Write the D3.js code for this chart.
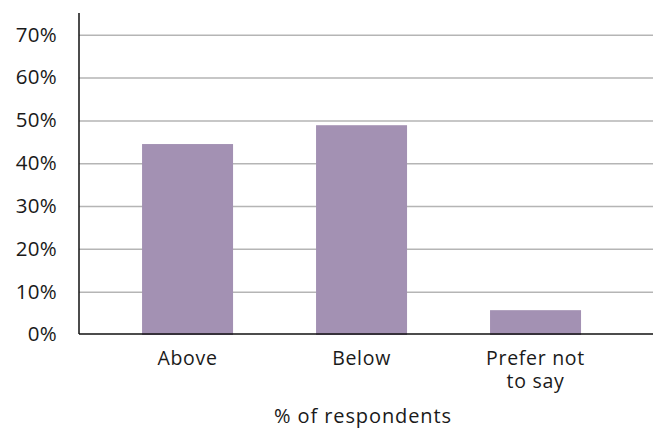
<!DOCTYPE html>
<html>
<head>
<meta charset="utf-8">
<script src="https://cdn.jsdelivr.net/npm/d3@7"></script>
<style>
  html, body { margin: 0; padding: 0; background: #ffffff; }
  svg { display: block; }
  text { font-family: "Open Sans", "Noto Sans", sans-serif; fill: #1a1a1a; }
</style>
</head>
<body>
<svg id="chart" width="662" height="432"></svg>
<script>
const categories = ["Above", "Below", "Prefer not\nto say"];
const values = [44.6, 49.0, 5.8];
const yTicks = [0, 10, 20, 30, 40, 50, 60, 70];
const yTickLabels = ["0%", "10%", "20%", "30%", "40%", "50%", "60%", "70%"];
const xTitle = "% of respondents";

const svg = d3.select("#chart");
const mLeft = 79, mRight = 653, mTop = 13, mBottom = 335;

const y = d3.scaleLinear().domain([0, 70]).range([mBottom, 35.3]);
const x = d3.scaleBand().domain(categories).range([mLeft, mRight])
  .paddingInner(0.477).paddingOuter(0.388).align(0.467);

// gridlines
svg.append("g").selectAll("line").data(yTicks.filter(d => d > 0)).join("line")
  .attr("x1", mLeft).attr("x2", mRight)
  .attr("y1", d => y(d)).attr("y2", d => y(d))
  .attr("stroke", "#b5b5b5").attr("stroke-width", 1.5);

// bars
svg.append("g").selectAll("rect").data(values).join("rect")
  .attr("x", (d, i) => x(categories[i]))
  .attr("width", x.bandwidth())
  .attr("y", d => y(d))
  .attr("height", d => y(0) - y(d))
  .attr("fill", "#a391b3");

// axes lines
svg.append("line").attr("x1", mLeft).attr("x2", mLeft).attr("y1", mTop).attr("y2", y(0) - 1)
  .attr("stroke", "#111").attr("stroke-width", 1.5);
svg.append("line").attr("x1", mLeft).attr("x2", mRight).attr("y1", y(0) - 1).attr("y2", y(0) - 1)
  .attr("stroke", "#111").attr("stroke-width", 1.5);

// y tick labels
svg.append("g").selectAll("text").data(yTicks).join("text")
  .attr("x", 57).attr("y", d => y(d) - 1)
  .attr("dy", "0.36em")
  .attr("text-anchor", "end")
  .style("font-size", "20.5px")
  .style("letter-spacing", "0.3px")
  .text((d, i) => yTickLabels[i]);

// x category labels
const cat = svg.append("g").selectAll("text").data(categories).join("text")
  .attr("text-anchor", "middle")
  .style("font-size", "19.5px")
  .style("letter-spacing", "0.7px")
  .attr("transform", d => `translate(${x(d) + x.bandwidth() / 2},365)`);
cat.selectAll("tspan").data(d => d.split("\n")).join("tspan")
  .attr("x", 0).attr("dy", (d, i) => i === 0 ? 0 : 22.5)
  .text(d => d);

// x title
svg.append("text").attr("x", 363).attr("y", 423)
  .attr("text-anchor", "middle").style("font-size", "20px")
  .style("letter-spacing", "0.9px")
  .text(xTitle);
</script>
</body>
</html>
